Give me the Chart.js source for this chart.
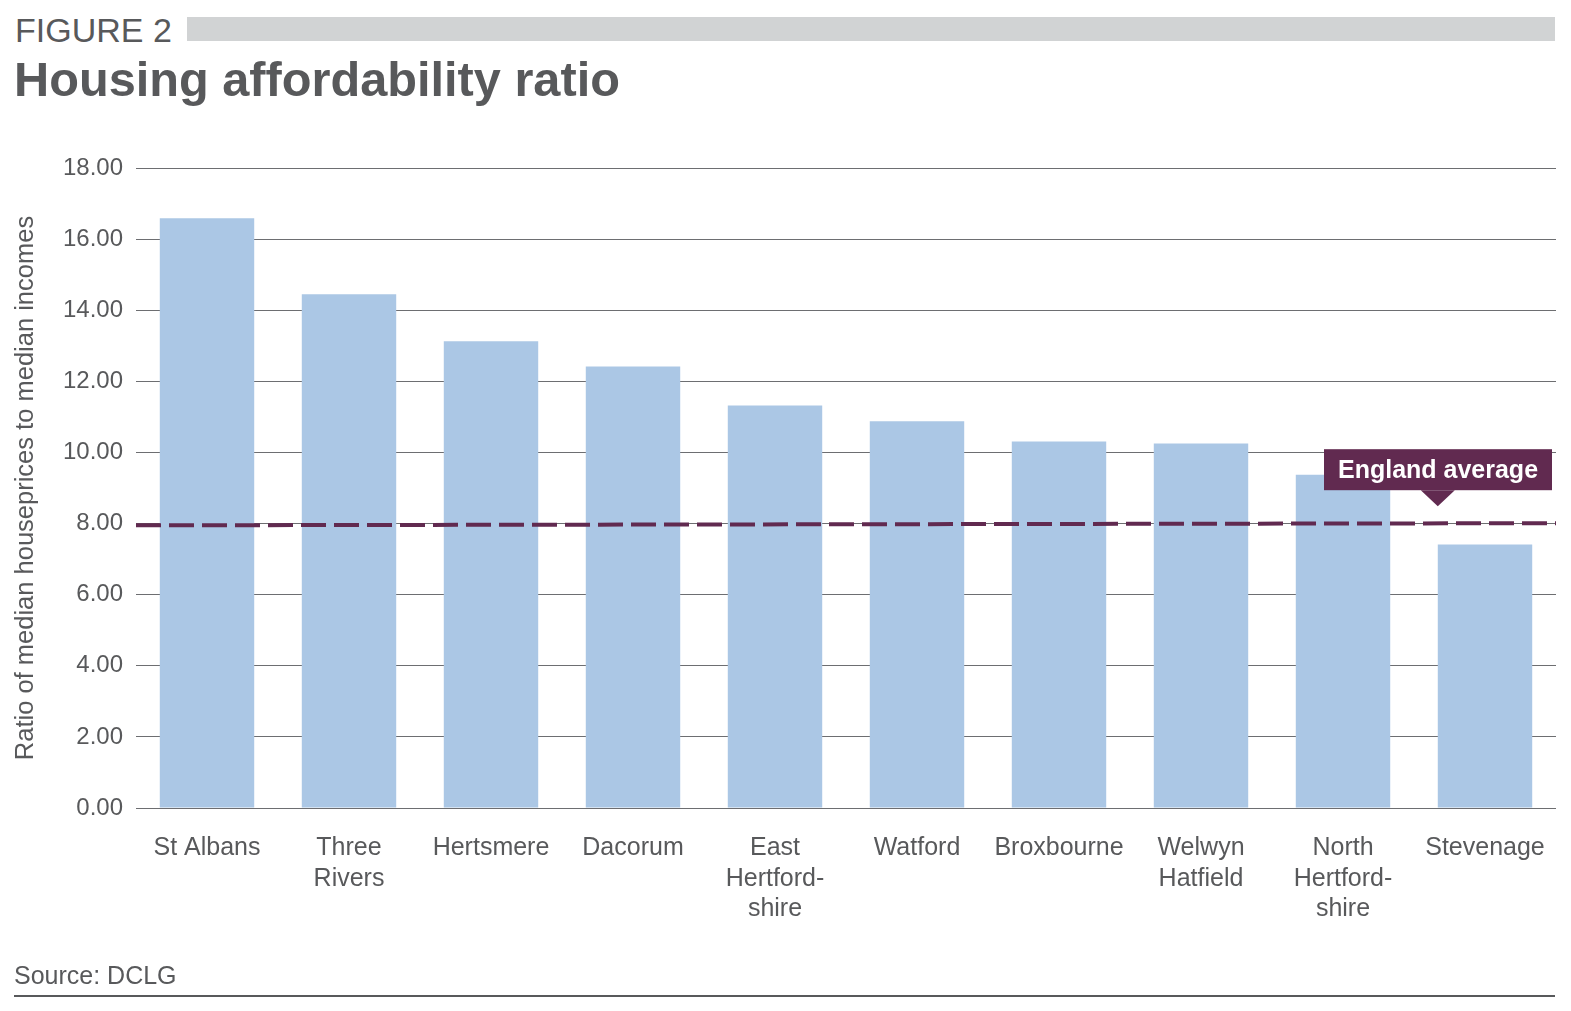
<!DOCTYPE html>
<html>
<head>
<meta charset="utf-8">
<script src="https://cdn.jsdelivr.net/npm/chart.js@4"></script>
<style>
  html, body { margin: 0; padding: 0; background: #fff; }
  body { width: 1571px; height: 1011px; position: relative; overflow: hidden; font-family: "Liberation Sans", Arial, sans-serif; color: #58595b; }
  #fig { position: absolute; left: 15px; top: 11px; font-size: 34px; line-height: 38px; }
  #figbar { position: absolute; left: 187px; top: 17px; width: 1368px; height: 24px; background: #d1d3d4; }
  #title { position: absolute; left: 14px; top: 49px; font-size: 48.7px; font-weight: bold; line-height: 60px; }
  #source { position: absolute; left: 14px; top: 961px; font-size: 25px; line-height: 28px; }
  #rule { position: absolute; left: 14px; top: 995px; width: 1541px; height: 2px; background: #58595b; }
  #wrap { position: absolute; left: 0; top: 0; width: 1571px; height: 1011px; }
</style>
</head>
<body>
<div id="fig">FIGURE 2</div>
<div id="figbar"></div>
<div id="title">Housing affordability ratio</div>
<div id="wrap"><canvas id="c" width="1571" height="1011"></canvas></div>
<div id="source">Source: DCLG</div>
<div id="rule"></div>
<script>
const categories = [
  "St Albans", ["Three", "Rivers"], "Hertsmere", "Dacorum", ["East", "Hertford-", "shire"],
  "Watford", "Broxbourne", ["Welwyn", "Hatfield"], ["North", "Hertford-", "shire"], "Stevenage"
];
const ratios = [16.59, 14.45, 13.13, 12.42, 11.32, 10.88, 10.31, 10.25, 9.37, 7.41];
const englandAverage = [{ x: 0, y: 7.95 }, { x: 1, y: 8.01 }];
const yTicks = [0, 2, 4, 6, 8, 10, 12, 14, 16, 18];
const calloutText = "England average";

const TEXT = "#58595b";
const PURPLE = "#612a50";
const FONT = "'Liberation Sans', Arial, sans-serif";

const callout = {
  id: "callout",
  afterDatasetsDraw(chart) {
    const ctx = chart.ctx;
    const y = chart.scales.y;
    const yLine = y.getPixelForValue(englandAverage[1].y);
    const bar = chart.getDatasetMeta(0).data[9];
    const tipX = bar.x - bar.width / 2;
    const right = chart.chartArea.right - 4;
    const w = 228, h = 41;
    const top = yLine - 74;
    const left = right - w;
    ctx.save();
    ctx.fillStyle = PURPLE;
    ctx.fillRect(left, top, w, h);
    ctx.beginPath();
    ctx.moveTo(tipX - 17, top + h);
    ctx.lineTo(tipX + 17, top + h);
    ctx.lineTo(tipX, top + h + 16);
    ctx.closePath();
    ctx.fill();
    ctx.fillStyle = "#fff";
    ctx.font = "bold 25px " + FONT;
    ctx.textAlign = "center";
    ctx.textBaseline = "middle";
    ctx.fillText(calloutText, left + w / 2, top + h / 2 + 1);
    ctx.restore();
  }
};

new Chart(document.getElementById("c"), {
  type: "bar",
  data: {
    labels: categories,
    datasets: [
      {
        type: "bar",
        data: ratios,
        backgroundColor: "#abc7e5",
        borderWidth: 0,
        grouped: false,
        categoryPercentage: 1,
        barPercentage: 0.665,
        order: 2
      },
      {
        type: "line",
        data: englandAverage,
        xAxisID: "x2",
        borderColor: PURPLE,
        borderWidth: 4,
        borderDash: [25, 8],
        pointRadius: 0,
        fill: false,
        order: 1
      }
    ]
  },
  options: {
    responsive: false,
    animation: false,
    layout: { padding: { left: 0, top: 168, right: 15, bottom: 0 } },
    plugins: { legend: { display: false }, tooltip: { enabled: false } },
    scales: {
      x: {
        offset: true,
        grid: { display: false, drawTicks: false },
        border: { display: false },
        ticks: {
          color: TEXT,
          padding: 25,
          maxRotation: 0,
          autoSkip: false,
          font: { family: FONT, size: 25, lineHeight: 1.22 }
        },
        afterFit(s) { s.height = 203; }
      },
      x2: {
        type: "linear",
        min: 0,
        max: 1,
        offset: false,
        display: false
      },
      y: {
        min: 0,
        max: 18,
        afterBuildTicks(s) { s.ticks = yTicks.map(v => ({ value: v })); },
        grid: { color: "#6d6e71", lineWidth: 1, drawTicks: false },
        border: { display: false },
        ticks: {
          color: TEXT,
          padding: 13,
          font: { family: FONT, size: 24 },
          callback: v => Number(v).toFixed(2)
        },
        title: {
          display: true,
          text: "Ratio of median houseprices to median incomes",
          color: TEXT,
          padding: { top: 11, bottom: 0 },
          font: { family: FONT, size: 25.5 }
        },
        afterFit(s) { s.width = 136; }
      }
    }
  },
  plugins: [callout]
});
</script>
</body>
</html>
